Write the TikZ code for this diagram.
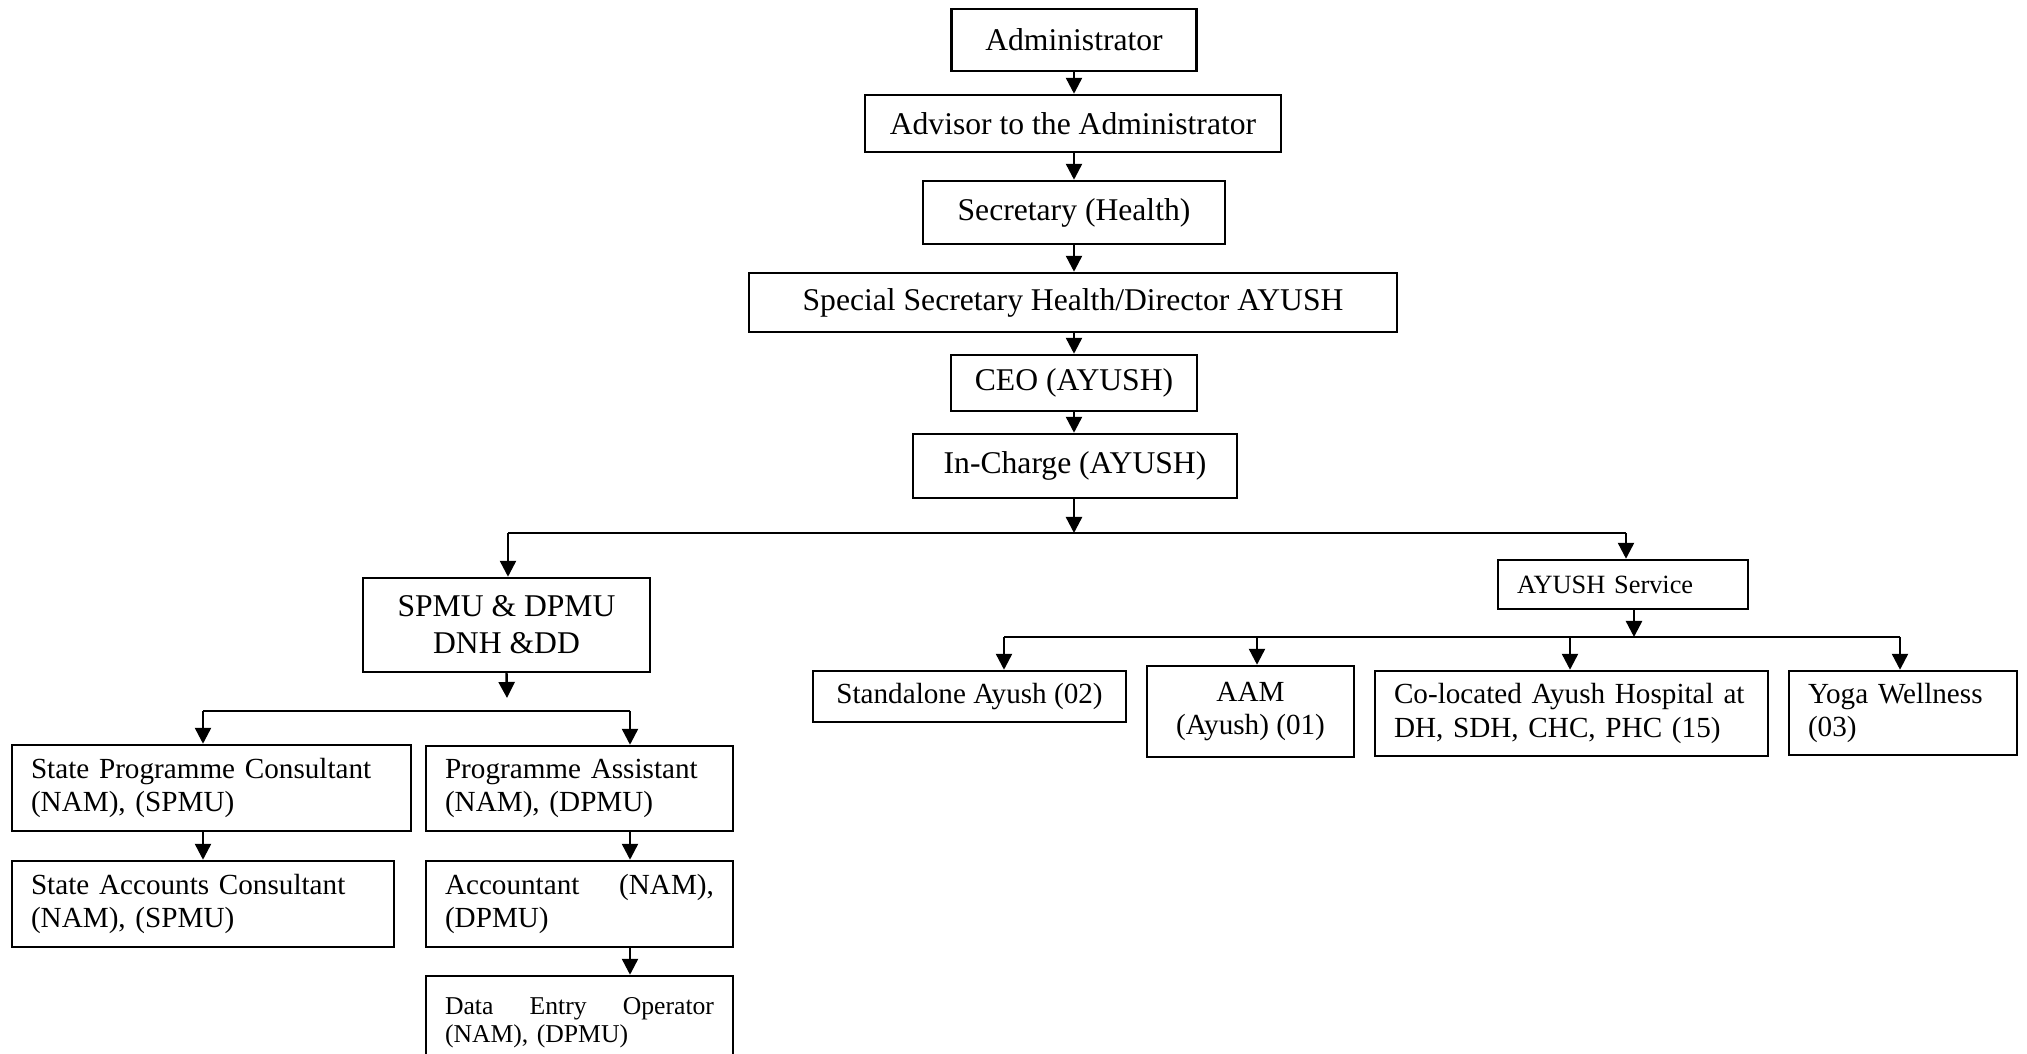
\documentclass[tikz,border=0pt]{standalone}
\usepackage{fontspec}
\setmainfont{Liberation Serif}
\usetikzlibrary{arrows.meta}
\newcommand\fA{\fontsize{9}{10.5}\selectfont}
\newcommand\fB{\fontsize{8.3}{9.4}\selectfont}
\newcommand\fC{\fontsize{7.5}{8.5}\selectfont}
\newcommand\fD{\fontsize{7.3}{8}\selectfont}
\tikzset{
  box/.style 2 args={draw, line width=0.7pt, inner sep=0pt, align=center, font=\fA, minimum width=#1, minimum height=#2},
  lbox/.style 2 args={draw, line width=0.7pt, inner ysep=0pt, inner xsep=1.9mm, align=left, font=\fB, text width=#1, minimum height=#2},
  arr/.style={line width=0.7pt, -{Triangle[length=1.6mm,width=1.6mm]}},
  ln/.style={line width=0.7pt},
}
\begin{document}
\begin{tikzpicture}[x=0.1mm,y=-0.1mm]
\useasboundingbox (0,0) rectangle (2027,1054);
\clip (0,0) rectangle (2027,1054);
% top chain
\node[box={24.5mm}{6.2mm}] (admin) at (1074,40) {Administrator};
\node[box={41.6mm}{5.7mm}] (advisor) at (1073,123.5) {Advisor to the Administrator};
\node[box={30.2mm}{6.3mm}] (secretary) at (1074,212.5) {Secretary (Health)};
\node[box={64.8mm}{5.9mm}] (special) at (1073,302.5) {Special Secretary Health/Director AYUSH};
\node[box={24.6mm}{5.6mm}] (ceo) at (1074,383) {CEO (AYUSH)};
\node[box={32.4mm}{6.4mm}] (incharge) at (1075,466) {In-Charge (AYUSH)};
% second level
\node[box={28.7mm}{9.4mm}] (spmu) at (506.5,625) {SPMU \& DPMU\\DNH \&DD};
\node[lbox={21.2mm}{4.9mm}, font=\fC] (ayush) at (1623,584.5) {AYUSH Service};
% AYUSH services
\node[box={31.3mm}{5.1mm}, font=\fB] (standalone) at (969.5,696.5) {Standalone Ayush (02)};
\node[box={20.7mm}{9.1mm}, font=\fB] (aam) at (1250.5,711.5) {AAM\\(Ayush) (01)};
\node[lbox={35.5mm}{8.5mm}] (coloc) at (1571.5,713.5) {Co-located Ayush Hospital at\\DH, SDH, CHC, PHC (15)};
\node[lbox={19.0mm}{8.4mm}] (yoga) at (1903,713) {Yoga Wellness\\(03)};
% SPMU / DPMU staff
\node[lbox={36.1mm}{8.6mm}] (spc) at (211.5,788) {State Programme Consultant\\(NAM), (SPMU)};
\node[lbox={26.9mm}{8.5mm}] (pa) at (579.5,788.5) {Programme Assistant\\(NAM), (DPMU)};
\node[lbox={34.4mm}{8.6mm}] (sac) at (203,904) {State Accounts Consultant\\(NAM), (SPMU)};
\node[lbox={26.9mm}{8.6mm}] (acc) at (579.5,904) {Accountant \hfill (NAM),\\(DPMU)};
\node[lbox={26.9mm}{9.4mm}, font=\fD] (deo) at (579.5,1023) {Data \hfill Entry \hfill Operator\\(NAM), (DPMU)};
% junction coordinates
\coordinate (j1) at (1074,533);
\coordinate (jl) at (508,533);
\coordinate (jr) at (1626,533);
\coordinate (j2) at (507,698);
\coordinate (j3) at (203,711);
\coordinate (j4) at (630,711);
\coordinate (kc) at (1634,637);
\coordinate (k1) at (1004,637);
\coordinate (k2) at (1257,637);
\coordinate (k3) at (1570,637);
\coordinate (k4) at (1900,637);
% top chain arrows
\draw[arr] (j1 |- admin.south) -- (j1 |- advisor.north);
\draw[arr] (j1 |- advisor.south) -- (j1 |- secretary.north);
\draw[arr] (j1 |- secretary.south) -- (j1 |- special.north);
\draw[arr] (j1 |- special.south) -- (j1 |- ceo.north);
\draw[arr] (j1 |- ceo.south) -- (j1 |- incharge.north);
\draw[arr] (j1 |- incharge.south) -- (j1);
% first split
\draw[ln] (jl) -- (jr);
\draw[arr] (jl) -- (jl |- spmu.north);
\draw[arr] (jr) -- (jr |- ayush.north);
% SPMU split
\draw[arr] (spmu.south) -- (j2);
\draw[ln] (j3) -- (j4);
\draw[arr] (j3) -- (j3 |- spc.north);
\draw[arr] (j4) -- (j4 |- pa.north);
\draw[arr] (j3 |- spc.south) -- (j3 |- sac.north);
\draw[arr] (j4 |- pa.south) -- (j4 |- acc.north);
\draw[arr] (j4 |- acc.south) -- (j4 |- deo.north);
% AYUSH split
\draw[arr] (kc |- ayush.south) -- (kc);
\draw[ln] (k1) -- (k4);
\draw[arr] (k1) -- (k1 |- standalone.north);
\draw[arr] (k2) -- (k2 |- aam.north);
\draw[arr] (k3) -- (k3 |- coloc.north);
\draw[arr] (k4) -- (k4 |- yoga.north);
\end{tikzpicture}
\end{document}
